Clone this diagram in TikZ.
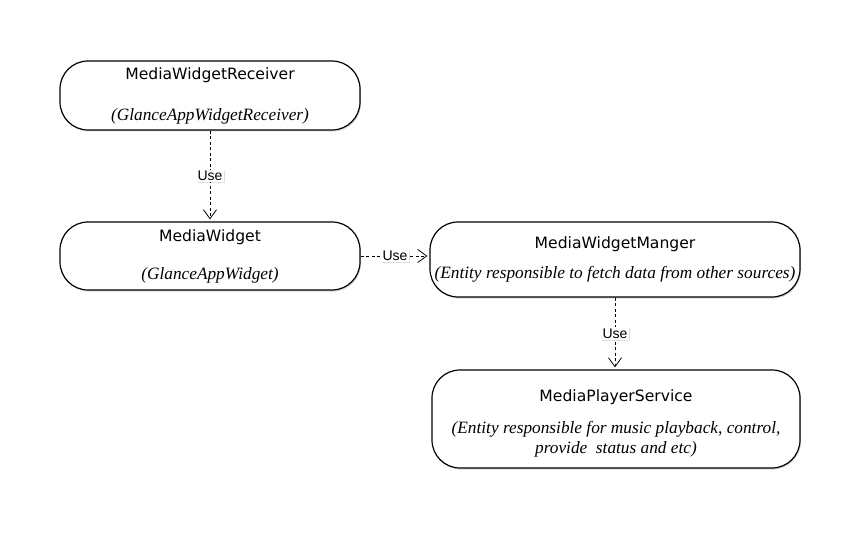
\documentclass[tikz,border=0pt]{standalone}
\usepackage{fontspec}
\setmainfont{Liberation Serif}
\newfontfamily\titlefont{DejaVu Sans}
\newfontfamily\labfont{Liberation Sans}
\usetikzlibrary{arrows.meta,shadows}
\begin{document}
\begin{tikzpicture}[x=1pt,y=-1pt,
  box/.style={draw=black,line width=1.2pt,rounded corners=28pt,fill=white,
    drop shadow={shadow xshift=1pt,shadow yshift=-1.5pt,opacity=0.3}},
  ttl/.style={font=\titlefont\fontsize{15.6}{18}\selectfont,inner sep=0pt},
  sub/.style={font=\itshape\fontsize{17.3}{20}\selectfont,inner sep=0pt,align=center},
  usearrow/.style={draw=black,line width=0.8pt,dash pattern=on 3pt off 2.5pt,
    -{Straight Barb[length=9pt,width=13pt,line width=0.8pt]},shorten >=2pt},
  uselabel/.style={fill=white,inner sep=1.5pt,font=\labfont\fontsize{14}{16}\selectfont,
    drop shadow={shadow xshift=1pt,shadow yshift=-1pt,opacity=0.25}}]
\useasboundingbox (0,0) rectangle (867,537);
\fill[white] (0,0) rectangle (867,537);

\node[box,minimum width=300pt,minimum height=69pt] (b1) at (210,95.5) {};
\node[ttl] (t1) at (210,75) {MediaWidgetReceiver};
\node[sub] (s1) at (210,116) {(GlanceAppWidgetReceiver)};

\node[box,minimum width=300pt,minimum height=68pt] (b2) at (210,256) {};
\node[ttl] (t2) at (210,237) {MediaWidget};
\node[sub] (s2) at (210,275) {(GlanceAppWidget)};

\node[box,minimum width=370pt,minimum height=75pt] (b3) at (615,259.5) {};
\node[ttl] (t3) at (615,244) {MediaWidgetManger};
\node[sub] (s3) at (615,274) {(Entity responsible to fetch data from other sources)};

\node[box,minimum width=368pt,minimum height=98pt] (b4) at (616,419) {};
\node[ttl] (t4) at (616,397) {MediaPlayerService};
\node[sub,font=\itshape\fontsize{17.3}{20}\selectfont] (s4) at (616,439) {(Entity responsible for music playback, control,\\provide\ \ status and etc)};

\draw[usearrow] (b1.south) -- node[uselabel] (u1) {Use} (b2.north);
\draw[usearrow] (b2.east) -- node[uselabel] (u2) {Use} (b3.west |- b2.east);
\draw[usearrow] (b3.south) -- node[uselabel] (u3) {Use} (b4.north -| b3.south);
\end{tikzpicture}
\end{document}
